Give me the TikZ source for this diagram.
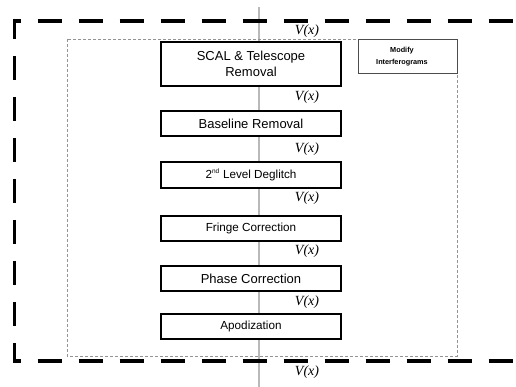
\documentclass[tikz,border=0pt]{standalone}
\usepackage{fontspec}
\setmainfont{Liberation Sans}
\newfontfamily\vfont{Liberation Serif}
\begin{document}
\begin{tikzpicture}[x=1pt,y=-1pt,
  proc/.style={draw=black, line width=1.4pt, fill=white, minimum width=180pt, inner sep=0pt, align=center, font=\fontsize{13}{16.5}\selectfont},
  procs/.style={proc, font=\fontsize{11.7}{14}\selectfont},
  vlab/.style={font=\vfont\itshape\fontsize{14}{14}\selectfont, inner sep=0pt},
  outerdash/.style={line width=3.4pt, dash pattern=on 24pt off 17pt, line join=miter},
  innerdash/.style={draw=gray!85, line width=0.6pt, dash pattern=on 3pt off 2pt},
  flow/.style={draw=gray!55, line width=1.4pt}]
\useasboundingbox (0,0) rectangle (516,387);
% flow line
\coordinate (ftop) at (259,7);
\coordinate (fbot) at (259,387);
\draw[flow] (ftop) -- (fbot);
% outer dashed frame
\coordinate (c0) at (20.5,21);
\coordinate (c1) at (14.5,21);
\coordinate (c2) at (14.5,361);
\coordinate (c3) at (530,361);
\coordinate (c4) at (530,21);
\draw[outerdash] (c0) -- (c1) -- (c2) -- (c3);
\draw[outerdash, dash phase=24pt] (c0) -- (c4);
% inner dashed frame
\coordinate (i0) at (67,39);
\coordinate (i1) at (457,356);
\draw[innerdash] (i0) rectangle (i1);
% modify box
\node[draw=gray!60!black, line width=0.8pt, minimum width=99pt, minimum height=34pt, inner sep=0pt] (mod) at (407.5,56) {};
\node[font=\bfseries\fontsize{7.3}{12.5}\selectfont, align=center, inner sep=0pt] (modtxt) at (402,56.5) {Modify\\Interferograms};
% process boxes
\node[proc, line width=1.8pt, minimum height=44pt] (scal) at (251,64) {SCAL \& Telescope\\Removal};
\node[proc, minimum height=25pt] (base) at (251,123.5) {Baseline Removal};
\node[procs, minimum height=26pt] (degl) at (251,175) {2\textsuperscript{\fontsize{6.5}{7}\selectfont nd} Level Deglitch};
\node[procs, minimum height=25pt] (fringe) at (251,228.5) {Fringe Correction};
\node[proc, minimum height=25pt] (phase) at (251,278.5) {Phase Correction};
\node[procs, minimum height=25pt] (apod) at (251,326.5) {Apodization};
% signal labels
\node[vlab] (v0) at (307,31) {V(x)};
\node[vlab] (v1) at (307,97) {V(x)};
\node[vlab] (v2) at (307,149) {V(x)};
\node[vlab] (v3) at (307,198) {V(x)};
\node[vlab] (v4) at (307,251) {V(x)};
\node[vlab] (v5) at (307,302) {V(x)};
\node[vlab] (v6) at (307,372) {V(x)};
\end{tikzpicture}
\end{document}
